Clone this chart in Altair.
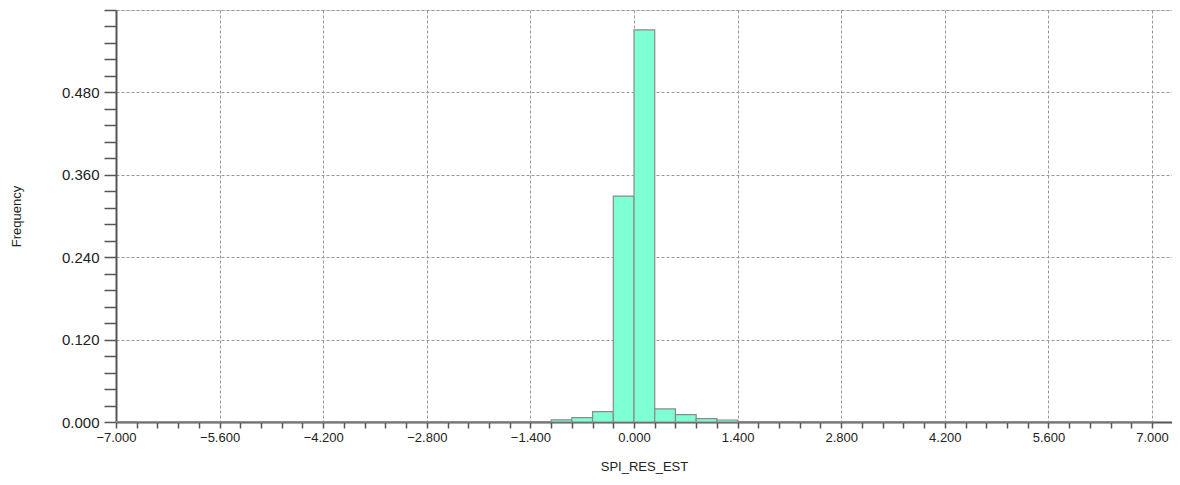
import altair as alt
import pandas as pd

# Bin lower edges (SPI_RES_EST), bin width 0.28
bin_lo = [-7.00, -6.72, -6.44, -6.16, -5.88, -5.60, -5.32, -5.04, -4.76, -4.48,
          -4.20, -3.92, -3.64, -3.36, -3.08, -2.80, -2.52, -2.24, -1.96, -1.68,
          -1.40, -1.12, -0.84, -0.56, -0.28, 0.00, 0.28, 0.56, 0.84, 1.12,
          1.40, 1.68, 1.96, 2.24, 2.52, 2.80, 3.08, 3.36, 3.64, 3.92,
          4.20, 4.48, 4.76, 5.04, 5.32, 5.60, 5.88, 6.16, 6.44, 6.72]
bin_width = 0.28
freq = [0.0006, 0.0, 0.0004, 0.0004, 0.0004, 0.0004, 0.0004, 0.0004, 0.0004, 0.0004,
        0.0004, 0.0004, 0.0004, 0.0004, 0.0004, 0.0004, 0.0004, 0.0004, 0.0004, 0.0004,
        0.0006, 0.0030, 0.0063, 0.0150, 0.3290, 0.5710, 0.0190, 0.0106, 0.0048, 0.0029,
        0.0006, 0.0004, 0.0004, 0.0004, 0.0004, 0.0004, 0.0004, 0.0004, 0.0004, 0.0004,
        0.0004, 0.0004, 0.0004, 0.0004, 0.0004, 0.0004, 0.0004, 0.0004, 0.0004, 0.0004]

x_ticks = [round(-7 + 0.28 * i, 2) for i in range(51)]
y_ticks = [round(0.024 * i, 3) for i in range(26)]

df = pd.DataFrame({"lo": bin_lo, "freq": freq})
df["hi"] = df["lo"] + bin_width
df["base"] = 0.0

FONT = "Liberation Sans"

x_axis = alt.Axis(
    values=x_ticks,
    labelExpr="abs(round(datum.value / 0.28)) % 5 == 0 ? format(datum.value, '.3f') : ''",
    labelFont=FONT, labelFontSize=13, labelColor="#222", labelPadding=3,
    labelFlush=False, labelOverlap=False,
    tickColor="#555", tickWidth=1.5, tickSize=6,
    domainColor="#555", domainWidth=2,
    grid=True, gridColor="#999", gridDash=[3, 2], gridWidth=1,
    gridOpacity={"condition": {"test": "abs(round(datum.value / 0.28)) % 5 == 0", "value": 1}, "value": 0},
    title="SPI_RES_EST", titleFont=FONT, titleFontSize=13, titleFontWeight="normal",
    titleColor="#222", titleX=528, titleY=44, titleBaseline="middle",
)

y_axis = alt.Axis(
    values=y_ticks,
    labelExpr="(abs(round(datum.value / 0.024)) % 5 == 0 && datum.value < 0.59) ? format(datum.value, '.3f') : ''",
    labelFont=FONT, labelFontSize=15, labelColor="#222", labelPadding=5,
    labelFlush=False, labelOverlap=False,
    tickColor="#555", tickWidth=1.5, tickSize=12,
    domainColor="#555", domainWidth=2,
    grid=True, gridColor="#999", gridDash=[3, 2], gridWidth=1,
    gridOpacity={"condition": {"test": "abs(round(datum.value / 0.024)) % 5 == 0", "value": 1}, "value": 0},
    title="Frequency", titleFont=FONT, titleFontSize=13, titleFontWeight="normal",
    titleColor="#222", titleX=-100, titleY=206, titleBaseline="middle", titleAngle=-90,
)

chart = alt.Chart(df).mark_bar(
    fill="#7FFFD4", stroke="#8a8a8a", strokeWidth=1.2, orient="vertical"
).encode(
    x=alt.X("lo:Q", scale=alt.Scale(domain=[-7, 7.27], nice=False, zero=False, padding=0), axis=x_axis),
    x2="hi:Q",
    y=alt.Y("freq:Q", scale=alt.Scale(domain=[0, 0.6], nice=False, padding=0), axis=y_axis),
    y2="base:Q",
).properties(
    width=1056, height=412,
    autosize=alt.AutoSizeParams(type="none"),
    padding={"left": 108, "top": 2, "right": 0, "bottom": 55},
).configure_view(stroke=None).configure(background="white")

chart.save("out.html", embed_options={"renderer": "svg", "actions": False})
